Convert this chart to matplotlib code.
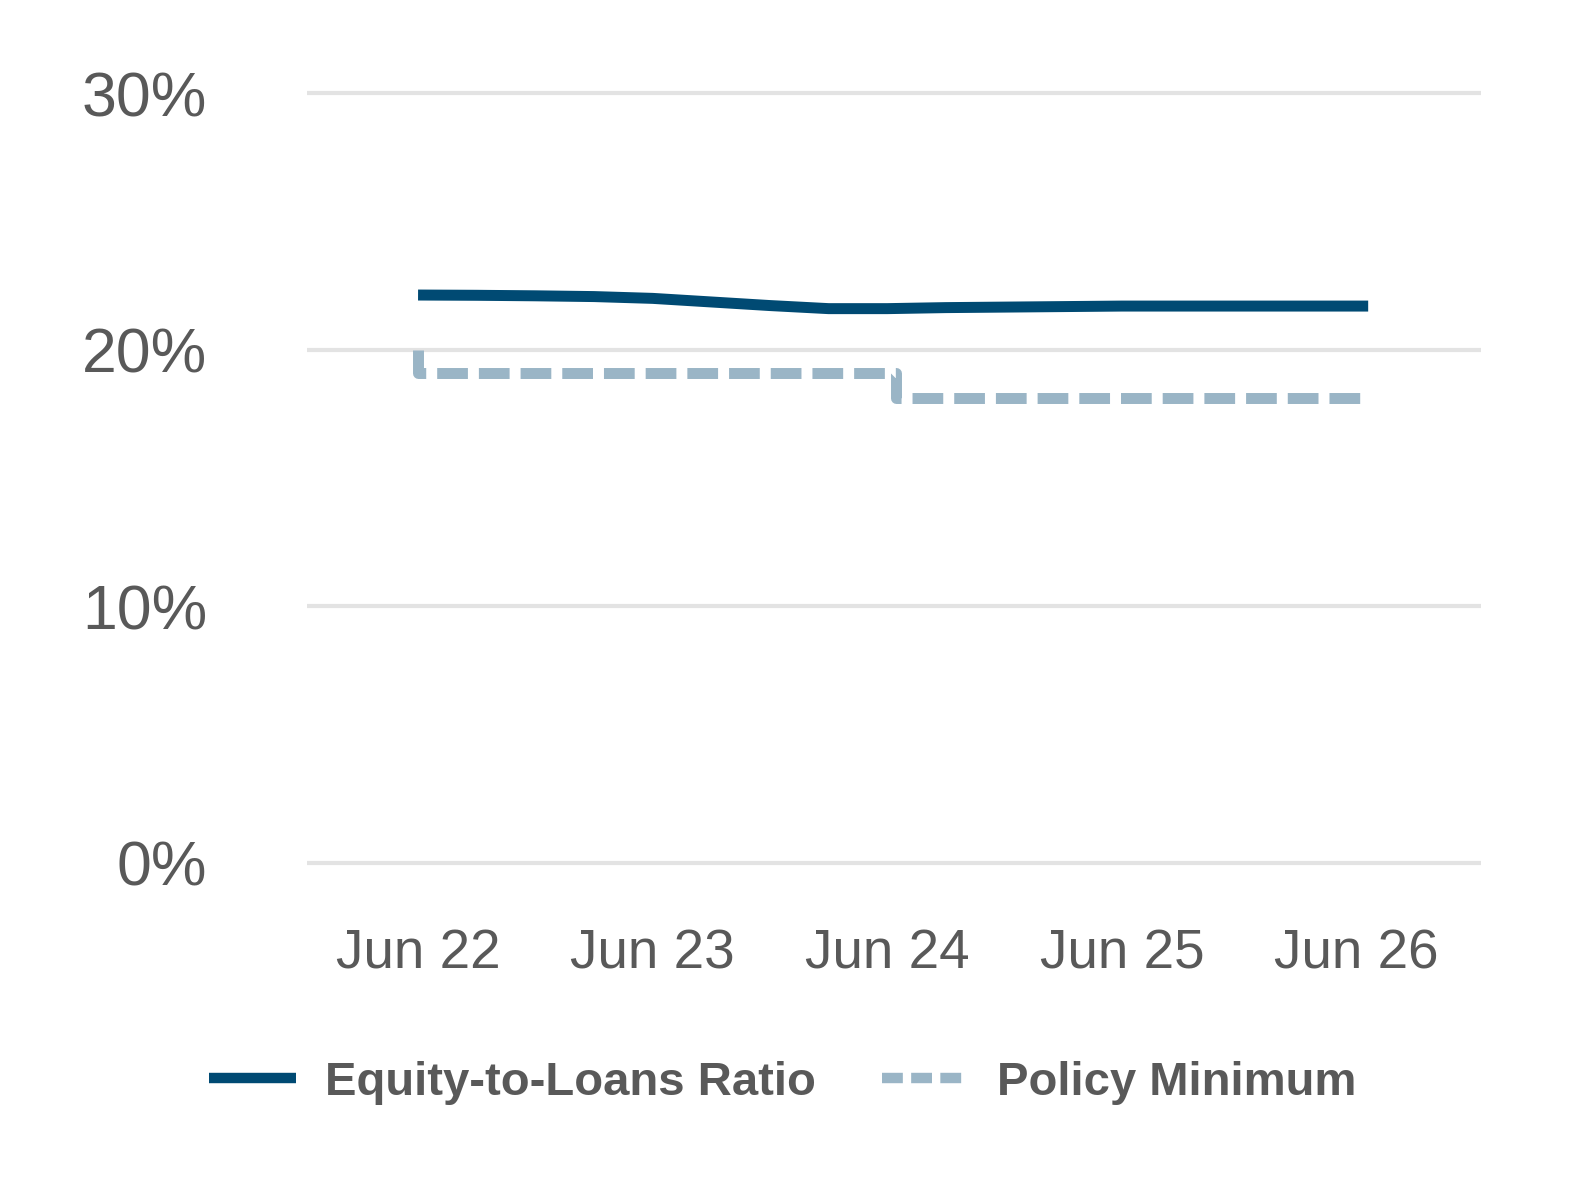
import matplotlib
matplotlib.use("Agg")
import matplotlib.pyplot as plt
from matplotlib.lines import Line2D

# months since Jun 22
equity_months = [0, 3, 6, 9, 12, 15, 18, 21, 24, 27, 30, 33, 36, 39, 42, 45, 48.6]
equity_ratio = [22.13, 22.12, 22.10, 22.07, 22.00, 21.86, 21.72, 21.60, 21.60,
                21.64, 21.66, 21.68, 21.70, 21.70, 21.70, 21.70, 21.70]

policy_months = [0, 0, 24.45, 24.45, 48.6]
policy_min = [20.0, 19.1, 19.1, 18.1, 18.1]

tick_months = [0, 12, 24, 36, 48]
tick_labels = ["Jun 22", "Jun 23", "Jun 24", "Jun 25", "Jun 26"]
y_ticks = [0, 10, 20, 30]

dark = "#004a73"
light = "#9ab5c6"
grey = "#595959"

plt.rcParams['font.family'] = ['Liberation Sans', 'DejaVu Sans']

fig = plt.figure(figsize=(15.72, 11.94), dpi=100)
ax = fig.add_axes([0.1953, 0.2665, 0.7468, 0.6663])

ax.plot(equity_months, equity_ratio, color=dark, lw=7.9, solid_capstyle='butt',
        label="Equity-to-Loans Ratio", zorder=3)
ax.plot(policy_months, policy_min, color=light, lw=7.9, dashes=(2.8, 1.0),
        dash_capstyle='butt', label="Policy Minimum", zorder=2)

ax.set_xlim(-5.68, 54.37)
ax.set_ylim(-0.5, 30.5)
ax.set_xticks(tick_months)
ax.set_xticklabels(tick_labels)
ax.set_yticks(y_ticks)
ax.set_yticklabels([f"{v}%" for v in y_ticks])
ax.tick_params(axis='both', length=0, labelcolor=grey)
ax.tick_params(axis='y', pad=72, labelsize=45)
ax.tick_params(axis='x', pad=38, labelsize=39.5)
ax.grid(axis='y', color='#e3e3e3', lw=3)
ax.set_axisbelow(True)
for s in ax.spines.values():
    s.set_visible(False)

handles = [Line2D([], [], color=dark, lw=7.5, solid_capstyle='butt'),
           Line2D([], [], color=light, lw=7.5, dashes=(2.0, 0.8), dash_capstyle='butt')]
leg = fig.legend(handles, ["Equity-to-Loans Ratio", "Policy Minimum"],
                 loc='center', bbox_to_anchor=(0.498, 1 - 1083 / 1194), ncol=2,
                 frameon=False, handlelength=1.85, handletextpad=0.6,
                 columnspacing=1.4, prop={'size': 34, 'weight': 'bold'})
for t in leg.get_texts():
    t.set_color(grey)

fig.savefig("out.png", dpi=100)
